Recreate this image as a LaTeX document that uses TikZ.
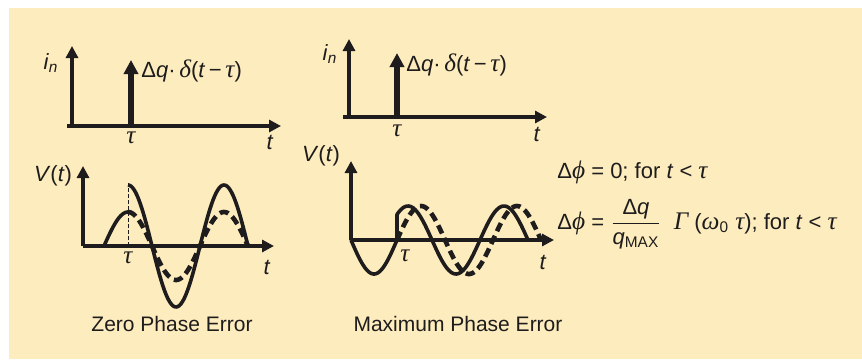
\documentclass[tikz,border=0pt]{standalone}
\usepackage{fontspec}
\setmainfont{Liberation Sans}
\newfontfamily\grkfont[Scale=1.15]{Liberation Serif}
\usetikzlibrary{arrows.meta}
\definecolor{paper}{RGB}{253,236,190}
\definecolor{ink}{RGB}{30,28,28}
\newcommand{\gtau}{{\grkfont\itshape τ}}
\newcommand{\gdelta}{{\grkfont\itshape δ}}
\newcommand{\gphi}{{\grkfont\itshape ϕ}}
\newcommand{\gomega}{{\grkfont\itshape ω}}
\newcommand{\gGamma}{{\grkfont\itshape Γ}}
\newcommand{\impulse}{Δ\textit{q}·\,\gdelta(\textit{t}\,−\,\gtau)}
\begin{document}
\begin{tikzpicture}[x=0.5pt,y=-0.5pt,
  axis/.style={-{Triangle[length=6pt,width=6pt]},line width=2pt,draw=ink},
  pulse/.style={-{Triangle[length=7pt,width=7pt]},line width=3pt,draw=ink},
  wave/.style={line width=1.8pt,draw=ink,line join=round},
  ghost/.style={line width=2.3pt,draw=ink,dash pattern=on 4.5pt off 2.5pt},
  marker/.style={thin,draw=ink,dash pattern=on 2pt off 1pt},
  lab/.style={font=\fontsize{11}{13}\selectfont,text=ink,inner sep=0pt},
  caption/.style={font=\fontsize{10.5}{12}\selectfont,text=ink,inner sep=0pt}]
\useasboundingbox (0,0) rectangle (862,359);
\fill[paper] (9,8) rectangle (862,359);
% top left: current pulse
\coordinate (oA) at (72,126);
\draw[axis] (oA) -- (72,46);
\draw[axis] (67,126) -- (281,126);
\draw[pulse] (131,126) -- (131,60);
\node[lab] (inA) at (51,63) {\textit{i}\textsubscript{\textit{n}}};
\node[lab,anchor=west] (qA) at (141,71) {\impulse};
\node[lab] (tauA) at (131,138) {\gtau};
\node[lab] (tA) at (270,142) {\textit{t}};
% top right: current pulse
\coordinate (oB) at (349,117);
\draw[axis] (oB) -- (349,39);
\draw[axis] (343,117) -- (547,117);
\draw[pulse] (397,117) -- (397,53);
\node[lab] (inB) at (330,54) {\textit{i}\textsubscript{\textit{n}}};
\node[lab,anchor=west] (qB) at (406,65) {\impulse};
\node[lab] (tauB) at (397,131) {\gtau};
\node[lab] (tB) at (537,134) {\textit{t}};
% bottom left: zero phase error
\coordinate (oC) at (83,246);
\draw[axis] (oC) -- (83,166);
\draw[axis] (oC) -- (274,246);
\draw[marker] (128,246) -- (128,183);
\draw[wave] plot[domain=104:128,samples=20] (\x,{246-34*sin(3.75*(\x-104))});
\draw[wave] plot[domain=128:248,samples=80] (\x,{246-61*cos(3.75*(\x-128))});
\draw[ghost] plot[domain=128:248,samples=80] (\x,{246-34*cos(3.75*(\x-128))});
\node[lab] (vC) at (53,176) {\textit{V}(\textit{t})};
\node[lab] (tauC) at (128,258) {\gtau};
\node[lab] (tC) at (267,267) {\textit{t}};
\node[caption] (zero) at (172,324) {Zero Phase Error};
% bottom right: maximum phase error
\coordinate (oD) at (351,240);
\draw[axis] (oD) -- (351,161);
\draw[axis] (oD) -- (554,240);
\draw[wave] plot[domain=351:397,samples=40] (\x,{240+34*sin(3.913*(\x-351))})
  -- plot[domain=397:528,samples=80] (\x,{240-34*cos(3.75*(\x-408))});
\draw[ghost] plot[domain=397:541,samples=90] (\x,{240-34*sin(3.75*(\x-397))});
\node[lab] (vD) at (321,156) {\textit{V}(\textit{t})};
\node[lab] (tauD) at (405,256) {\gtau};
\node[lab] (tD) at (543,262) {\textit{t}};
\node[caption] (maxi) at (458,324) {Maximum Phase Error};
% phase relations
\node[lab,anchor=west] (eqA) at (557,172) {Δ\gphi\ = 0; for \textit{t} < \gtau};
\node[lab,anchor=west] (eqB) at (557,224) {Δ\gphi\ = $\displaystyle\frac{\mbox{Δ\textit{q}}}{\mbox{\textit{q}\textsubscript{MAX}}}$\ \ \gGamma\ (\gomega\textsubscript{0} \gtau); for \textit{t} < \gtau};
\end{tikzpicture}
\end{document}
